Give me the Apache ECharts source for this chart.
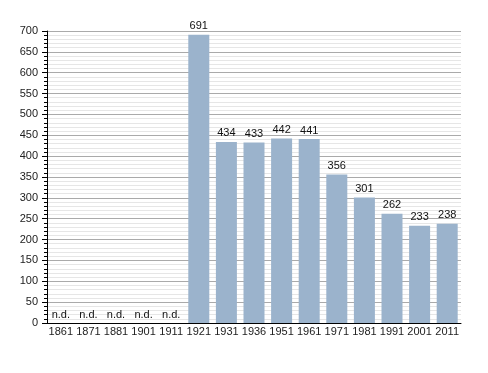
<!DOCTYPE html>
<html><head><meta charset="utf-8">
<script src="https://cdn.jsdelivr.net/npm/echarts@6/dist/echarts.min.js"></script>
<style>html,body{margin:0;padding:0;background:#fff}#c{width:488px;height:373px}</style>
</head><body><div id="c"></div>
<script>
var years = ['1861','1871','1881','1901','1911','1921','1931','1936','1951','1961','1971','1981','1991','2001','2011'];
var population = [null,null,null,null,null,691,434,433,442,441,356,301,262,233,238];
var yTicks = [0,50,100,150,200,250,300,350,400,450,500,550,600,650,700];

var chart = echarts.init(document.getElementById('c'), null, {renderer:'canvas'});
var barData = population.map(function(v){ return v === null ? {value:0, nd:true} : v; });
chart.setOption({
  animation:false,
  grid:{left:47, right:27, top:31, bottom:50},
  xAxis:{
    type:'category', data:years,
    axisLine:{lineStyle:{color:'#000', width:1}},
    axisTick:{show:false},
    axisLabel:{color:'#222', fontSize:11, fontFamily:'Liberation Sans, Arial', margin:3, interval:0}
  },
  yAxis:{
    type:'value', min:yTicks[0], max:yTicks[yTicks.length-1], interval:50,
    axisLine:{show:true, lineStyle:{color:'#000', width:1}},
    axisTick:{show:true, length:5, lineStyle:{color:'#000'}},
    minorTick:{show:true, splitNumber:5, length:3, lineStyle:{color:'#000'}},
    splitLine:{show:true, lineStyle:{color:'#aaa', width:1}},
    minorSplitLine:{show:true, lineStyle:{color:'#e6e6e6', width:1}},
    axisLabel:{color:'#222', fontSize:11, fontFamily:'Liberation Sans, Arial', margin:9}
  },
  series:[{
    type:'bar', data:barData, barWidth:21,
    itemStyle:{color:'#9bb3cc'},
    label:{show:true, position:'top', distance:3, color:'#111', fontSize:11, fontFamily:'Liberation Sans, Arial',
      formatter:function(p){ return (p.data && p.data.nd) ? 'n.d.' : p.value; }}
  }]
});
</script></body></html>
